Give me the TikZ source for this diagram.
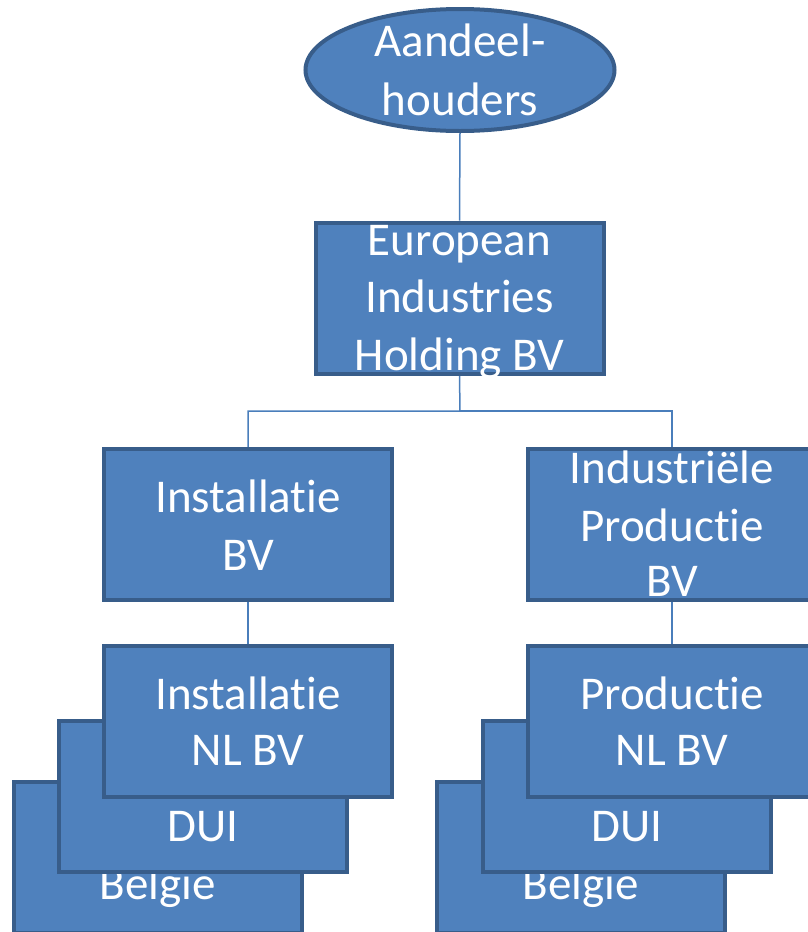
\documentclass[tikz,border=0pt]{standalone}
\usepackage{fontspec}
\setmainfont[Ligatures={NoCommon}]{Carlito}
\usetikzlibrary{shapes.geometric,backgrounds}
\definecolor{boxfill}{HTML}{4F81BD}
\definecolor{boxline}{HTML}{385D8A}
\definecolor{conn}{HTML}{4A7EBB}
\tikzset{
  orgbox/.style={draw=boxline, fill=boxfill, line width=4pt, rectangle,
    minimum width=288pt, minimum height=151pt, inner sep=0pt, line join=miter},
  orgell/.style={draw=boxline, fill=boxfill, line width=4pt, ellipse,
    minimum width=309pt, minimum height=122pt, inner sep=0pt},
  lbl/.style={anchor=base, text=white, inner sep=0pt,
    font=\fontsize{47}{57.5}\selectfont},
  link/.style={draw=conn, line width=1.5pt}
}
\begin{document}
\begin{tikzpicture}[x=1pt,y=-1pt]
\useasboundingbox (0,0) rectangle (808,932);
\clip (0,0) rectangle (808,932);
% top
\node[orgell] (ah) at (460,70) {};
\node[lbl] (ah1) at (460,56.7) {Aandeel-};
\node[lbl] (ah2) at (460,115) {houders};
\node[orgbox] (eu) at (459.5,298) {};
\node[lbl] (eu1) at (459.5,255) {European};
\node[lbl] (eu2) at (459.5,312.7) {Industries};
\node[lbl] (eu3) at (459.5,370) {Holding BV};
% level 2
\node[orgbox] (inst) at (248,524.5) {};
\node[lbl] (inst1) at (248,512.7) {Installatie};
\node[lbl] (inst2) at (248,570) {BV};
\node[orgbox] (ind) at (672,524.5) {};
\node[lbl] (ind1) at (672,483.3) {Industriële};
\node[lbl] (ind2) at (672,541) {Productie};
\node[lbl] (ind3) at (672,596.7) {BV};
% left stack
\node[orgbox] (instbe) at (157.5,857.5) {};
\node[lbl] (instbe1) at (157.5,899) {België};
\node[orgbox] (instdui) at (203,796) {};
\node[lbl] (instdui1) at (203,841.7) {DUI};
\node[orgbox] (instnl) at (248,721) {};
\node[lbl] (instnl1) at (248,709.3) {Installatie};
\node[lbl] (instnl2) at (248,765.7) {NL BV};
% right stack
\node[orgbox] (prodbe) at (581,857.5) {};
\node[lbl] (prodbe1) at (581,899) {België};
\node[orgbox] (proddui) at (627,796) {};
\node[lbl] (proddui1) at (627,841.7) {DUI};
\node[orgbox] (prodnl) at (672,721) {};
\node[lbl] (prodnl1) at (672,709.3) {Productie};
\node[lbl] (prodnl2) at (672,765.7) {NL BV};
% connectors
\begin{scope}[on background layer]
\coordinate (j) at (460,411);
\draw[link] (ah.south) -- (eu.north);
\draw[link] (eu.south) -- (j) -| (inst.north);
\draw[link] (j) -| (ind.north);
\draw[link] (inst.south) -- (instnl.north);
\draw[link] (ind.south) -- (prodnl.north);
\end{scope}
\end{tikzpicture}
\end{document}
